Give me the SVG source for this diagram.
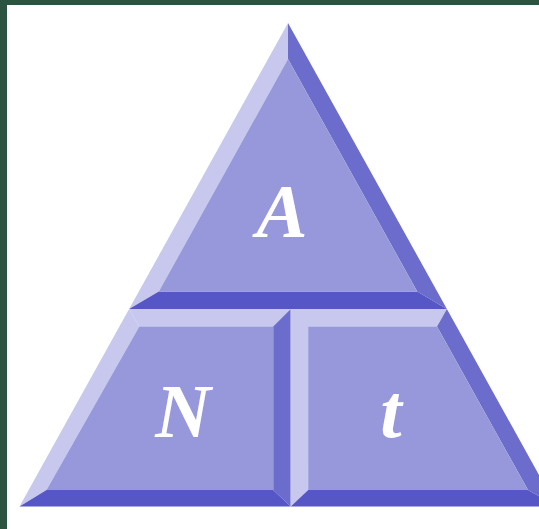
<svg xmlns="http://www.w3.org/2000/svg" width="539" height="529" viewBox="0 0 539 529">
  <style>
    .light{fill:#c8c8ee}
    .face{fill:#9797db}
    .mid{fill:#6c6ccd}
    .dark{fill:#5656c6}
    .lbl{font-family:"Liberation Serif","Times New Roman",serif;font-style:italic;font-weight:bold;font-size:77px;fill:#ffffff;text-anchor:middle}
  </style>
  <rect x="0" y="0" width="539" height="529" fill="#ffffff"/>
  <rect x="0" y="0" width="539" height="5" fill="#2b5540"/>
  <rect x="0" y="0" width="7" height="529" fill="#2b5540"/>

  <g id="node-A">
    <polygon class="light" points="288,23 129.1,309 158.8,291.5 288,59"/>
    <polygon class="mid" points="288,23 446.9,309 417.2,291.5 288,59"/>
    <polygon class="dark" points="129.1,309 446.9,309 417.2,291.5 158.8,291.5"/>
    <polygon class="face" points="288,59 417.2,291.5 158.8,291.5"/>
    <text class="lbl" x="282" y="237">A</text>
  </g>

  <g id="node-N">
    <polygon class="light" points="129.1,309 290.7,309 273.2,326.5 139.3,326.5"/>
    <polygon class="light" points="129.1,309 139.3,326.5 46.5,490 19.5,506.5"/>
    <polygon class="mid" points="290.7,309 290.7,506.5 273.2,490 273.2,326.5"/>
    <polygon class="dark" points="19.5,506.5 290.7,506.5 273.2,490 46.5,490"/>
    <polygon class="face" points="139.3,326.5 273.2,326.5 273.2,490 46.5,490"/>
    <text class="lbl" x="183" y="437">N</text>
  </g>

  <g id="node-t">
    <polygon class="light" points="290.7,309 446.9,309 437,326.5 308.2,326.5 308.2,490 290.7,506.5"/>
    <polygon class="mid" points="446.9,309 556.5,506.5 528,490 437,326.5"/>
    <polygon class="dark" points="290.7,506.5 556.5,506.5 528,490 308.2,490"/>
    <polygon class="face" points="308.2,326.5 437,326.5 528,490 308.2,490"/>
    <text class="lbl" x="391" y="437">t</text>
  </g>

  <g id="connectors"></g>
</svg>
